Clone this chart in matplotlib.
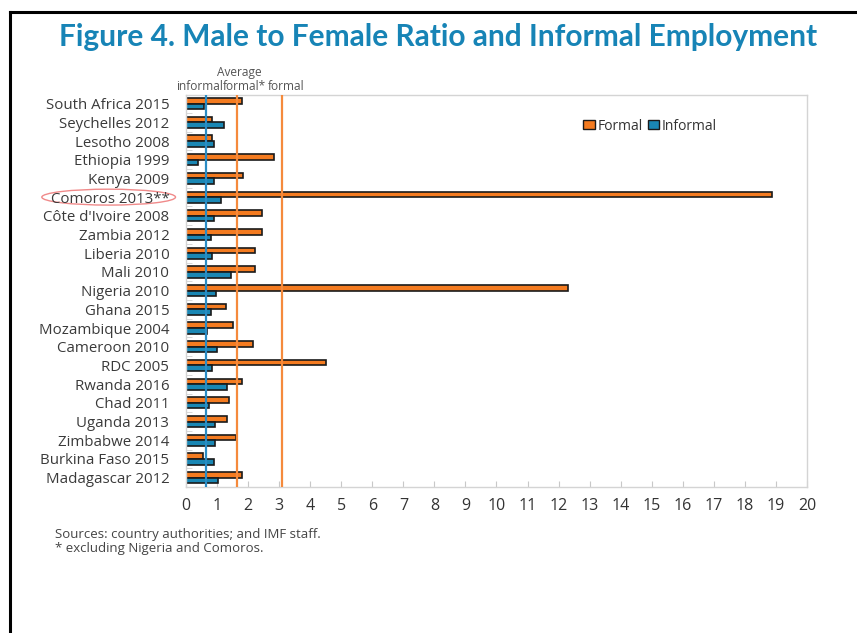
import matplotlib
matplotlib.use("Agg")
import matplotlib.pyplot as plt
from matplotlib.patches import Ellipse, Patch
from matplotlib.lines import Line2D
from matplotlib.transforms import blended_transform_factory

# Male to female ratio by employment type
countries = ["South Africa 2015", "Seychelles 2012", "Lesotho 2008", "Ethiopia 1999",
             "Kenya 2009", "Comoros 2013**", "Côte d'Ivoire 2008", "Zambia 2012",
             "Liberia 2010", "Mali 2010", "Nigeria 2010", "Ghana 2015",
             "Mozambique 2004", "Cameroon 2010", "RDC 2005", "Rwanda 2016",
             "Chad 2011", "Uganda 2013", "Zimbabwe 2014", "Burkina Faso 2015",
             "Madagascar 2012"]
formal = [1.82, 0.85, 0.85, 2.82, 1.85, 18.87, 2.46, 2.46, 2.22, 2.22, 12.32,
          1.28, 1.53, 2.17, 4.52, 1.80, 1.38, 1.32, 1.62, 0.54, 1.81]
informal = [0.57, 1.24, 0.90, 0.38, 0.90, 1.12, 0.90, 0.80, 0.85, 1.44, 0.96,
            0.80, 0.69, 1.01, 0.84, 1.33, 0.75, 0.95, 0.95, 0.90, 1.03]

# averages drawn as vertical lines
avg_informal = 0.64
avg_formal_excl = 1.65
avg_formal = 3.09

orange = "#f47b20"
blue = "#1a87b4"
title_blue = "#1784b6"

plt.rcParams["font.family"] = ["Open Sans", "DejaVu Sans"]

fig = plt.figure(figsize=(8.57, 6.33), dpi=100)
ax = fig.add_axes([0.217, 0.2306, 0.7246, 0.619])

pos = list(range(len(countries)))
h = 0.3
ax.barh([p - 0.15 for p in pos], formal, height=h, color=orange,
        edgecolor="#1a1a1a", linewidth=1.2, zorder=2)
ax.barh([p + 0.15 for p in pos], informal, height=h, color=blue,
        edgecolor="#1a1a1a", linewidth=1.2, zorder=2)

ax.axvline(avg_informal, color="#2b8cc4", lw=1.6, zorder=3)
ax.axvline(avg_formal_excl, color="#f58a3c", lw=1.6, zorder=3)
ax.axvline(avg_formal, color="#f58a3c", lw=1.6, zorder=3)

ax.set_xlim(0, 20)
ax.set_ylim(20.5, -0.45)
ax.set_xticks(range(0, 21))
ax.tick_params(axis="x", direction="in", length=4, color="#c8c8c8",
               labelsize=11.5, labelcolor="#333333", pad=8)
ax.set_yticks(pos)
ax.set_yticklabels(countries)
ax.tick_params(axis="y", length=0, labelsize=10.8, labelcolor="#3a3a3a", pad=12)
ax.set_yticks([p + 0.5 for p in pos], minor=True)
ax.tick_params(axis="y", which="minor", direction="in", length=4, color="#d0d0d0")
for s in ax.spines.values():
    s.set_color("#d4d4d4")
    s.set_linewidth(1)

# labels above the average lines
tr = blended_transform_factory(ax.transData, ax.transAxes)
lab = dict(transform=tr, ha="center", va="center", fontsize=8.6, color="#555555")
ax.text(1.72, 1.057, "Average", **lab)
ax.text(0.45, 1.022, "informal", **lab)
ax.text(1.88, 1.022, "formal*", **lab)
ax.text(3.23, 1.022, "formal", **lab)

handles = [Patch(facecolor=orange, edgecolor="#1a1a1a", lw=1),
           Patch(facecolor=blue, edgecolor="#1a1a1a", lw=1)]
ax.legend(handles, ["Formal", "Informal"], loc="center left",
          bbox_to_anchor=(0.62, 0.921), frameon=False, ncol=2, fontsize=10,
          handlelength=0.8, handleheight=0.65, handletextpad=0.2,
          columnspacing=0.4, labelcolor="#333333")

# circle around the Comoros label
ct = blended_transform_factory(fig.transFigure, ax.transData)
comoros = countries.index("Comoros 2013**")
ax.add_patch(Ellipse((0.1268, comoros), 0.156, 0.85, transform=ct,
                     fill=False, edgecolor="#f08a8a", lw=1, clip_on=False))

fig.text(0.511, 0.941, "Figure 4. Male to Female Ratio and Informal Employment",
         ha="center", va="center", fontsize=21.5, fontweight="bold",
         color=title_blue, family=["Lato", "DejaVu Sans"])

fig.text(0.064, 0.155, "Sources: country authorities; and IMF staff.",
         fontsize=9.5, color="#444444", va="center")
fig.text(0.064, 0.134, "* excluding Nigeria and Comoros.",
         fontsize=9.5, color="#444444", va="center")

# outer frame: top and left edges
fig.add_artist(Line2D([0.012, 1.0], [0.981, 0.981], color="black", lw=2.2,
                      transform=fig.transFigure))
fig.add_artist(Line2D([0.012, 0.012], [0.0, 0.981], color="black", lw=2.2,
                      transform=fig.transFigure))

fig.savefig("out.png", dpi=100)
